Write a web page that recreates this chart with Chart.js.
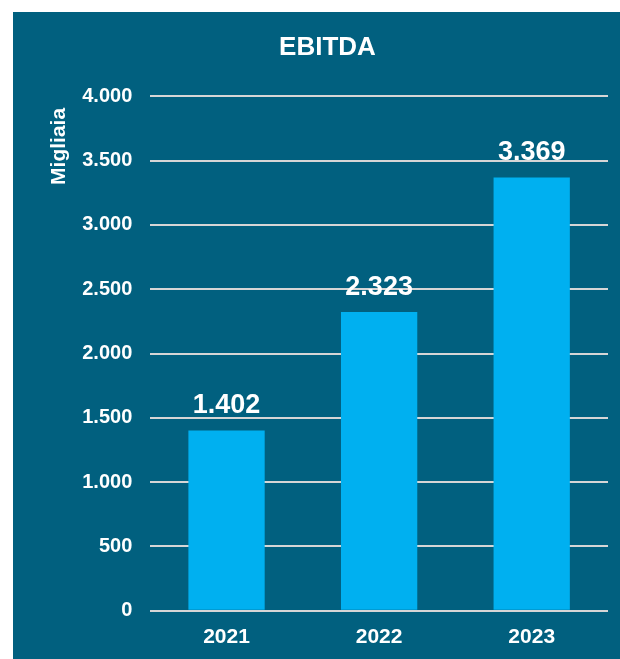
<!DOCTYPE html>
<html lang="it">
<head>
    <meta charset="UTF-8">
    <title>EBITDA</title>
    <script src="https://cdn.jsdelivr.net/npm/chart.js"></script>
    <style>
        html, body { margin: 0; padding: 0; background: #ffffff; }
        .box { position: absolute; left: 13px; top: 12px; width: 607px; height: 647px; background: #01607f; }
    </style>
</head>
<body>
    <div class="box">
        <canvas id="ebitdaChart" width="607" height="647"></canvas>
    </div>

    <script>
        const years = ['2021', '2022', '2023'];
        const ebitda = [1402, 2323, 3369];
        const yTicks = [0, 500, 1000, 1500, 2000, 2500, 3000, 3500, 4000];

        // 1402 -> "1.402"
        function fmt(v) {
            return String(v).replace(/\B(?=(\d{3})+(?!\d))/g, '.');
        }

        const valueLabels = {
            id: 'valueLabels',
            afterDatasetsDraw(chart) {
                const ctx = chart.ctx;
                const meta = chart.getDatasetMeta(0);
                ctx.save();
                ctx.fillStyle = '#ffffff';
                ctx.font = 'bold 27px "Liberation Sans", Arial, sans-serif';
                ctx.textAlign = 'center';
                ctx.textBaseline = 'bottom';
                meta.data.forEach((bar, i) => {
                    ctx.fillText(fmt(ebitda[i]), bar.x, bar.y - 11);
                });
                ctx.restore();
            }
        };

        Chart.defaults.font.family = '"Liberation Sans", Arial, sans-serif';
        Chart.defaults.color = '#ffffff';

        new Chart(document.getElementById('ebitdaChart'), {
            type: 'bar',
            data: {
                labels: years,
                datasets: [{
                    data: ebitda,
                    backgroundColor: '#00b0f0',
                    barPercentage: 0.5,
                    categoryPercentage: 1.0
                }]
            },
            options: {
                responsive: false,
                animation: false,
                layout: { padding: { left: 34, right: 12, top: 0, bottom: 3 } },
                plugins: {
                    legend: { display: false },
                    tooltip: { enabled: false },
                    title: {
                        display: true,
                        text: 'EBITDA',
                        color: '#ffffff',
                        font: { size: 26, weight: 'bold' },
                        padding: { top: 20, bottom: 33 }
                    }
                },
                scales: {
                    x: {
                        grid: { display: false },
                        border: { display: false },
                        ticks: { font: { size: 21, weight: 'bold' }, padding: 6 }
                    },
                    y: {
                        min: 0,
                        max: 4000,
                        afterBuildTicks(axis) {
                            axis.ticks = yTicks.map(v => ({ value: v }));
                        },
                        grid: { color: '#d6d6d6', lineWidth: 2, drawTicks: false },
                        border: { display: false },
                        ticks: {
                            font: { size: 20, weight: 'bold' },
                            padding: 18,
                            callback: v => fmt(v)
                        },
                        title: {
                            display: true,
                            // trailing spaces push the title a little below the top grid line
                            text: 'Migliaia  ',
                            align: 'end',
                            color: '#ffffff',
                            font: { size: 21, weight: 'bold' },
                            padding: { top: 0, bottom: -8 }
                        }
                    }
                }
            },
            plugins: [valueLabels]
        });
    </script>
</body>
</html>
